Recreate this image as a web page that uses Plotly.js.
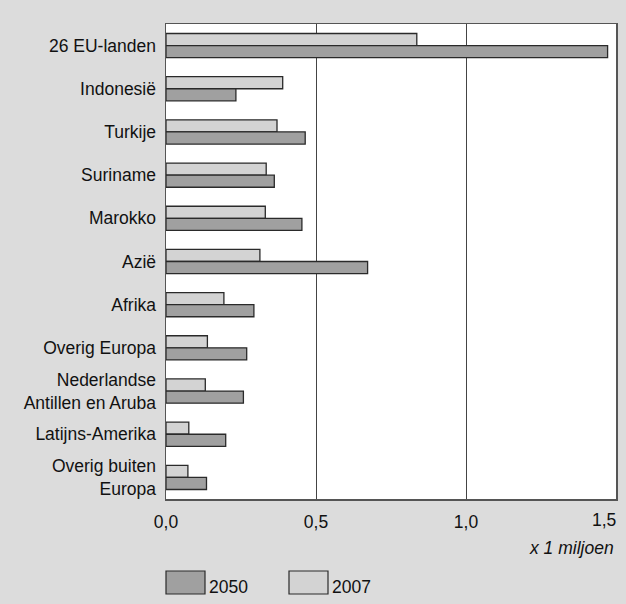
<!DOCTYPE html>
<html>
<head>
<meta charset="utf-8">
<script src="https://cdn.plot.ly/plotly-3.0.1.min.js"></script>
<style>html,body{margin:0;padding:0;background:#dcdcdc;}</style>
</head>
<body>
<div id="chart" style="width:626px;height:604px;"></div>
<script>
const categories = ["26 EU-landen", "Indonesië", "Turkije", "Suriname", "Marokko", "Azië", "Afrika", "Overig Europa", "Nederlandse<br>Antillen en Aruba", "Latijns-Amerika", "Overig buiten<br>Europa"];
const values2007 = [0.836, 0.389, 0.370, 0.334, 0.331, 0.313, 0.193, 0.138, 0.131, 0.076, 0.073];
const values2050 = [1.472, 0.233, 0.464, 0.361, 0.453, 0.672, 0.293, 0.269, 0.258, 0.199, 0.135];
const xTicks = [0, 0.5, 1.0, 1.5];
const xTickLabels = ["0,0", "0,5", "1,0", "1,5"];

const color2050 = "#a0a0a0";
const color2007 = "#d3d3d3";
const edge = "#2a2a2a";
const font = "'Liberation Sans', Arial, Helvetica, sans-serif";
const fs = 17.5;

const traces = [
  {type: "bar", orientation: "h", name: "2007", y: categories, x: values2007,
   marker: {color: color2007, line: {color: edge, width: 1.3}}, hoverinfo: "x+y"},
  {type: "bar", orientation: "h", name: "2050", y: categories, x: values2050,
   marker: {color: color2050, line: {color: edge, width: 1.3}}, hoverinfo: "x+y"}
];

function px2paperX(px) { return (px - 166) / 450; }
function px2paperY(py) { return (499 - py) / 475; }

// last tick label is kept inside the page, right-aligned at the axis end
const lastIdx = xTicks.length - 1;
const shownTickText = xTickLabels.map((t, i) => i === lastIdx ? "" : t);

const layout = {
  width: 626, height: 604,
  paper_bgcolor: "#dcdcdc", plot_bgcolor: "#ffffff",
  margin: {l: 166, r: 10, t: 24, b: 105},
  barmode: "group", bargap: 0.44, bargroupgap: 0,
  showlegend: false,
  font: {family: font, size: fs, color: "#111"},
  xaxis: {range: [0, 1.5], tickmode: "array", tickvals: xTicks, ticktext: shownTickText,
          showgrid: true, gridcolor: "#444", gridwidth: 1,
          zeroline: false, showline: true, linecolor: "#555", linewidth: 1.5, mirror: true,
          ticks: "", ticklen: 0, ticklabelstandoff: 6,
          tickfont: {size: fs, family: font, color: "#111"}, fixedrange: true},
  yaxis: {autorange: "reversed", type: "category", showgrid: false, zeroline: false,
          showline: true, linecolor: "#555", linewidth: 1.5, mirror: true,
          ticks: "", ticklen: 0, ticklabelstandoff: 5,
          tickfont: {size: fs, family: font, color: "#111"}, fixedrange: true},
  annotations: [
    {xref: "x", yref: "paper", x: xTicks[lastIdx], y: px2paperY(520), xanchor: "right", yanchor: "middle",
     xshift: 2, text: xTickLabels[lastIdx], showarrow: false, font: {size: fs, family: font, color: "#111"}},
    {xref: "paper", yref: "paper", x: 1, y: px2paperY(548), xanchor: "right", yanchor: "middle",
     text: "<i>x 1 miljoen</i>", showarrow: false, font: {size: fs, family: font, color: "#111"}},
    {xref: "paper", yref: "paper", x: px2paperX(207), y: px2paperY(587), xanchor: "left", yanchor: "middle",
     text: "2050", showarrow: false, font: {size: fs, family: font, color: "#111"}},
    {xref: "paper", yref: "paper", x: px2paperX(330), y: px2paperY(587), xanchor: "left", yanchor: "middle",
     text: "2007", showarrow: false, font: {size: fs, family: font, color: "#111"}}
  ],
  shapes: [
    {type: "rect", xref: "paper", yref: "paper", x0: px2paperX(166), x1: px2paperX(205),
     y0: px2paperY(571), y1: px2paperY(594), fillcolor: color2050, line: {color: edge, width: 1.2}},
    {type: "rect", xref: "paper", yref: "paper", x0: px2paperX(289), x1: px2paperX(328),
     y0: px2paperY(571), y1: px2paperY(594), fillcolor: color2007, line: {color: edge, width: 1.2}}
  ]
};

Plotly.newPlot("chart", traces, layout, {displayModeBar: false, staticPlot: true});
</script>
</body>
</html>
